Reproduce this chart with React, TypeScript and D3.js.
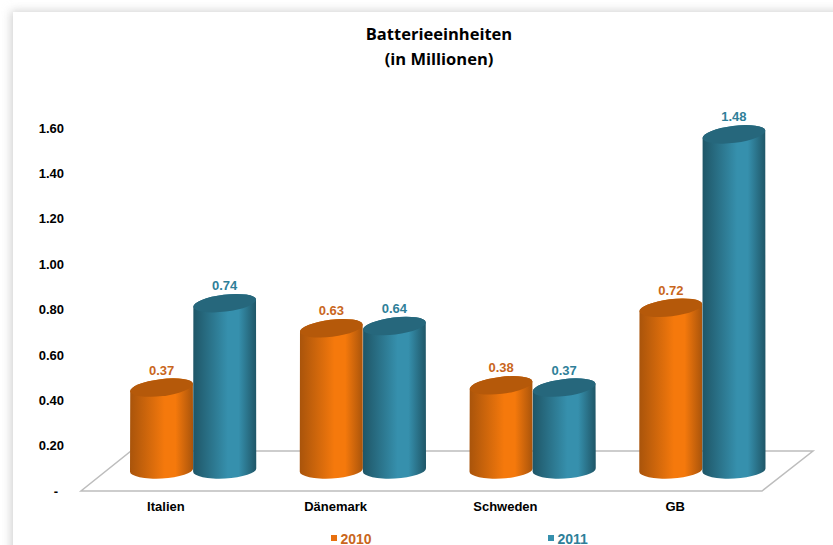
import React, { useEffect, useRef } from 'react';
import * as d3 from 'd3';

const categories = ['Italien', 'Dänemark', 'Schweden', 'GB'];
const seriesNames = ['2010', '2011'];
const values2010 = [0.37, 0.63, 0.38, 0.72];
const values2011 = [0.74, 0.64, 0.37, 1.48];
const yTicks = [0, 0.2, 0.4, 0.6, 0.8, 1.0, 1.2, 1.4, 1.6];

const colors = {
  orangeEdge: '#A9540B', orangeMid: '#F5790C', orangeTop: '#B5590A', orangeText: '#C9661C',
  blueEdge: '#1F5667', blueMid: '#3690AD', blueTop: '#26677C', blueText: '#2F7F99',
};

const WIDTH = 833;
const HEIGHT = 545;
const FONT = '"Liberation Sans", Arial, sans-serif';
const TOP_TILT = 7; // deg, the top ellipse leans more than the foot
const FOOT_TILT = 3;
const RY = 8.5;

const rad = (deg: number) => (deg * Math.PI) / 180;

const cylinderPath = (x0: number, w: number, top: number, bottom: number) => {
  const rx = w / 2;
  const cx = x0 + rx;
  const dxTop = rx * Math.cos(rad(TOP_TILT));
  const dyTop = rx * Math.sin(rad(TOP_TILT));
  const dyFoot = rx * Math.sin(rad(FOOT_TILT));
  const footArc = `A${rx},${RY} ${-FOOT_TILT} 0 0`;
  const topArc = `A${rx},${RY} ${-TOP_TILT} 0 0`;
  return `M${cx - dxTop},${top + dyTop} L${cx - rx},${bottom + dyFoot} ${footArc} ${cx + rx},${bottom - dyFoot} L${cx + dxTop},${top - dyTop} ${topArc} ${cx - dxTop},${top + dyTop}Z`;
};

export default function App() {
  const ref = useRef<SVGSVGElement>(null);

  useEffect(() => {
    if (!ref.current) return;
    const svg = d3.select(ref.current);
    svg.selectAll('*').remove();

    const defs = svg.append('defs');
    defs.append('filter').attr('id', 'shadow')
      .attr('x', '-5%').attr('y', '-5%').attr('width', '110%').attr('height', '110%')
      .append('feGaussianBlur').attr('stdDeviation', 5);

    const addGradient = (id: string, edge: string, mid: string) => {
      const g = defs.append('linearGradient').attr('id', id);
      g.append('stop').attr('offset', '0%').attr('stop-color', edge);
      g.append('stop').attr('offset', '55%').attr('stop-color', mid);
      g.append('stop').attr('offset', '72%').attr('stop-color', mid);
      g.append('stop').attr('offset', '100%').attr('stop-color', edge);
    };
    addGradient('grad2010', colors.orangeEdge, colors.orangeMid);
    addGradient('grad2011', colors.blueEdge, colors.blueMid);

    // page card with soft shadow
    svg.append('rect').attr('width', WIDTH).attr('height', HEIGHT).attr('fill', '#fff');
    svg.append('rect').attr('x', 11).attr('y', 11).attr('width', 900).attr('height', 620)
      .attr('fill', '#d0d0d0').attr('filter', 'url(#shadow)');
    svg.append('rect').attr('x', 13).attr('y', 12).attr('width', 900).attr('height', 620).attr('fill', '#fff');

    // title
    const title = svg.append('text').attr('text-anchor', 'middle')
      .attr('font-family', '"Open Sans", sans-serif').attr('font-weight', 700).attr('font-size', 16.5).attr('fill', '#000');
    title.append('tspan').attr('x', 439).attr('y', 40).text('Batterieeinheiten');
    title.append('tspan').attr('x', 439).attr('y', 65).text('(in Millionen)');

    // floor
    svg.append('path').attr('d', 'M81,491 L762,491 L813,451 L131,451 Z')
      .attr('fill', '#fff').attr('stroke', '#bdbdbd').attr('stroke-width', 1.5);

    // axis labels sit on the front edge, bars on the floor further back
    const yAxisScale = d3.scaleLinear().domain([0, 1.6]).range([491, 128]);
    const barY = d3.scaleLinear().domain([0, 1.6]).range([472, 107]);
    const x0 = d3.scaleBand().domain(categories).range([108, 787]);
    const x1 = d3.scaleBand().domain(seriesNames).range([22, x0.bandwidth() - 21.5]);

    const yAxis = d3.axisLeft(yAxisScale).tickValues(yTicks).tickSize(0)
      .tickFormat((d) => (+d === 0 ? '-' : d3.format('.2f')(+d)));
    const yG = svg.append('g').attr('transform', 'translate(67,0)').call(yAxis);
    yG.select('.domain').remove();
    yG.selectAll('text').attr('font-family', FONT).attr('font-weight', 700).attr('font-size', 13).attr('fill', '#000')
      .attr('x', (d) => (+(d as number) === 0 ? -9 : -3));

    const xAxis = d3.axisBottom(x0).tickSize(0);
    const xG = svg.append('g').attr('transform', 'translate(-27,502)').call(xAxis);
    xG.select('.domain').remove();
    xG.selectAll('text').attr('font-family', FONT).attr('font-weight', 700).attr('font-size', 13).attr('fill', '#000').attr('y', 0).attr('dy', '0.71em');

    const series = [
      { name: seriesNames[0], values: values2010, fill: 'url(#grad2010)', top: colors.orangeTop, text: colors.orangeText },
      { name: seriesNames[1], values: values2011, fill: 'url(#grad2011)', top: colors.blueTop, text: colors.blueText },
    ];

    series.forEach((s) => {
      const w = x1.bandwidth();
      categories.forEach((cat, i) => {
        const x = (x0(cat) as number) + (x1(s.name) as number);
        const v = s.values[i];
        const top = barY(v);
        svg.append('path').attr('d', cylinderPath(x, w, top, barY(0) - 2)).attr('fill', s.fill);
        svg.append('ellipse').attr('cx', x + w / 2).attr('cy', top).attr('rx', w / 2).attr('ry', RY)
          .attr('transform', `rotate(${-TOP_TILT} ${x + w / 2} ${top})`).attr('fill', s.top);
        svg.append('text').attr('x', x + w / 2).attr('y', top - 13).attr('text-anchor', 'middle')
          .attr('font-family', FONT).attr('font-weight', 700).attr('font-size', 13).attr('fill', s.text)
          .text(d3.format('.2f')(v));
      });
    });

    // legend
    const legendX = d3.scalePoint().domain(seriesNames).range([331, 548]);
    series.forEach((s) => {
      const lx = legendX(s.name) as number;
      svg.append('rect').attr('x', lx).attr('y', 535).attr('width', 6).attr('height', 6).attr('fill', s.name === '2010' ? '#E8700F' : colors.blueMid);
      svg.append('text').attr('x', lx + 9.5).attr('y', 543.5).attr('font-family', FONT).attr('font-weight', 700)
        .attr('font-size', 14).attr('fill', s.text).text(s.name);
    });
  }, []);

  return (
    <svg ref={ref} width={WIDTH} height={HEIGHT} style={{ position: 'absolute', left: 0, top: 0, display: 'block' }} />
  );
}
